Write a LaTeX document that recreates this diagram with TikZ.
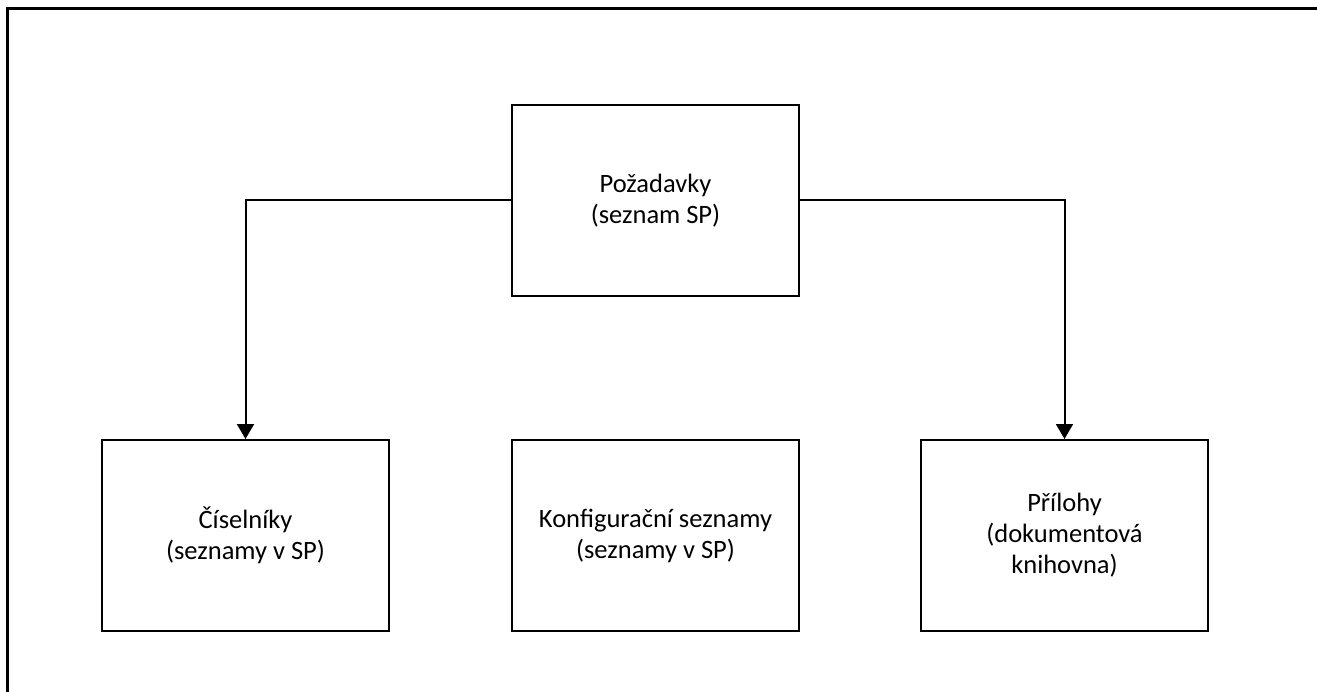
\documentclass[tikz,border=0pt]{standalone}
\usepackage{fontspec}
\setmainfont{Carlito}
\usetikzlibrary{arrows.meta}

\tikzset{
  block/.style={draw=black, line width=2pt, fill=white,
    minimum width=287pt, minimum height=191pt, inner sep=0pt,
    align=center, font=\fontsize{26.5}{31}\selectfont},
  link/.style={draw=black, line width=2pt,
    -{Triangle[length=15pt,width=17pt]}},
  frameline/.style={draw=black, line width=2.4pt}
}

\begin{document}
\begin{tikzpicture}[x=1pt,y=-1pt]
  \useasboundingbox (0,0) rectangle (1317,692);
  \clip (0,0) rectangle (1317,692);

  % outer frame (only its top and left sides fall on the page)
  \coordinate (fbl) at (7.5,720);
  \coordinate (ftl) at (7.5,8.5);
  \coordinate (ftr) at (1340,8.5);
  \draw[frameline] (fbl) -- (ftl) -- (ftr);

  % blocks
  \node[block] (req)  at (655.5,200.5) {Požadavky\\(seznam SP)};
  \node[block] (enum) at (245.5,535.5) {Číselníky\\(seznamy v SP)};
  \node[block] (conf) at (655.5,535.5) {Konfigurační seznamy\\(seznamy v SP)};
  \node[block] (att)  at (1064.5,535.5) {Přílohy\\(dokumentová\\knihovna)};

  % connectors
  \draw[link] (req.west) -| (enum.north);
  \draw[link] (req.east) -| (att.north);
\end{tikzpicture}
\end{document}
